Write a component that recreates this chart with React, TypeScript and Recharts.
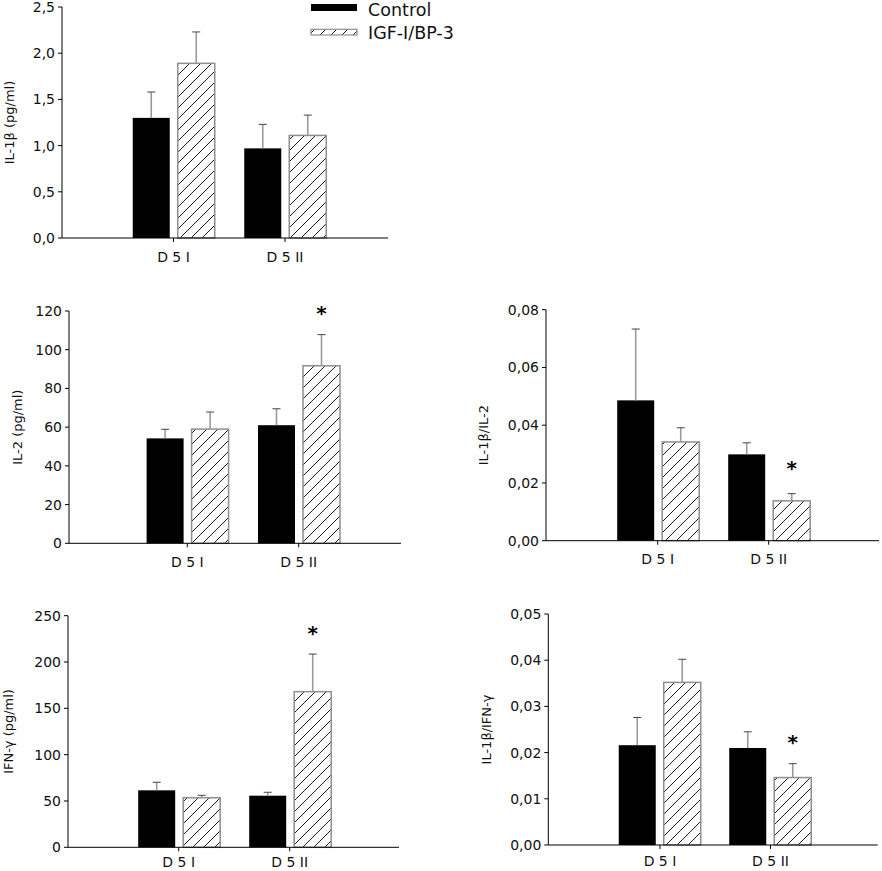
import React from 'react';
import { BarChart, Bar, XAxis, YAxis } from 'recharts';

const FONT = '"DejaVu Sans", "Liberation Sans", sans-serif';

// ---------- data ----------
const categories = ['D 5 I', 'D 5 II'];
const seriesNames = ['Control', 'IGF-I/BP-3'];

const il1bControl = [1.3, 0.97];
const il1bControlErr = [0.28, 0.26];
const il1bIgf = [1.89, 1.11];
const il1bIgfErr = [0.34, 0.22];
const il1bSig = [false, false];
const il1bTicks = [0, 0.5, 1, 1.5, 2, 2.5];

const il2Control = [54.2, 61.0];
const il2ControlErr = [4.7, 8.5];
const il2Igf = [59.0, 91.7];
const il2IgfErr = [8.8, 16.1];
const il2Sig = [false, true];
const il2Ticks = [0, 20, 40, 60, 80, 100, 120];

const ratioIl2Control = [0.0486, 0.0299];
const ratioIl2ControlErr = [0.0247, 0.004];
const ratioIl2Igf = [0.0342, 0.0138];
const ratioIl2IgfErr = [0.0049, 0.0025];
const ratioIl2Sig = [false, true];
const ratioIl2Ticks = [0, 0.02, 0.04, 0.06, 0.08];

const ifnControl = [61.5, 55.7];
const ifnControlErr = [8.7, 3.7];
const ifnIgf = [53.5, 168.0];
const ifnIgfErr = [2.6, 40.6];
const ifnSig = [false, true];
const ifnTicks = [0, 50, 100, 150, 200, 250];

const ratioIfnControl = [0.0216, 0.021];
const ratioIfnControlErr = [0.006, 0.0035];
const ratioIfnIgf = [0.0352, 0.0146];
const ratioIfnIgfErr = [0.005, 0.003];
const ratioIfnSig = [false, true];
const ratioIfnTicks = [0, 0.01, 0.02, 0.03, 0.04, 0.05];

function buildRows(c: number[], ce: number[], g: number[], ge: number[], s: boolean[]) {
  return categories.map((cat, i) => ({
    cat,
    control: c[i],
    controlErr: ce[i],
    igf: g[i],
    igfErr: ge[i],
    sig: s[i],
  }));
}

// ---------- layout / style (page coordinates) ----------
type Cfg = {
  id: string;
  rows: any[];
  ticks: number[];
  dec: number;
  label: string;
  left: number;
  top: number;
  axisX: number;
  rightX: number;
  topY: number;
  baseY: number;
  padL: number;
  padR: number;
  labelX: number;
  labelDy: number;
  starGap: number;
  xTickMargin: number;
};

const panels: Cfg[] = [
  {
    id: 'p1', rows: buildRows(il1bControl, il1bControlErr, il1bIgf, il1bIgfErr, il1bSig),
    ticks: il1bTicks, dec: 1, label: 'IL-1β (pg/ml)',
    left: 0, top: 0, axisX: 62, rightX: 388, topY: 7, baseY: 238, padL: 55.75, padR: 47.25,
    labelX: 9.5, labelDy: 0, starGap: 26, xTickMargin: 10,
  },
  {
    id: 'p2', rows: buildRows(il2Control, il2ControlErr, il2Igf, il2IgfErr, il2Sig),
    ticks: il2Ticks, dec: 0, label: 'IL-2 (pg/ml)',
    left: 0, top: 295, axisX: 69, rightX: 401, topY: 311, baseY: 543.3, padL: 62.6, padR: 46.6,
    labelX: 17.5, labelDy: 0, starGap: 26, xTickMargin: 10,
  },
  {
    id: 'p3', rows: buildRows(ratioIl2Control, ratioIl2ControlErr, ratioIl2Igf, ratioIl2IgfErr, ratioIl2Sig),
    ticks: ratioIl2Ticks, dec: 2, label: 'IL-1β/IL-2',
    left: 460, top: 295, axisX: 546, rightX: 879, topY: 309.7, baseY: 540.7, padL: 56.2, padR: 54.8,
    labelX: 483, labelDy: 10, starGap: 30, xTickMargin: 9,
  },
  {
    id: 'p4', rows: buildRows(ifnControl, ifnControlErr, ifnIgf, ifnIgfErr, ifnSig),
    ticks: ifnTicks, dec: 0, label: 'IFN-γ (pg/ml)',
    left: 0, top: 600, axisX: 68, rightX: 399, topY: 615.7, baseY: 847.3, padL: 55.2, padR: 53.8,
    labelX: 9, labelDy: 0, starGap: 26, xTickMargin: 6,
  },
  {
    id: 'p5', rows: buildRows(ratioIfnControl, ratioIfnControlErr, ratioIfnIgf, ratioIfnIgfErr, ratioIfnSig),
    ticks: ratioIfnTicks, dec: 2, label: 'IL-1β/IFN-γ',
    left: 460, top: 600, axisX: 548.3, rightX: 877.7, topY: 614, baseY: 845, padL: 56.45, padR: 51.95,
    labelX: 486.7, labelDy: 0, starGap: 26, xTickMargin: 7,
  },
];

const X_AXIS_H = 26;
const HATCH = 11;

function HatchPattern({ id }: { id: string }) {
  const s = HATCH;
  return (
    <pattern id={id} patternUnits="userSpaceOnUse" width={s} height={s}>
      <path
        d={`M0,${s} L${s},0 M${-s / 4},${s / 4} L${s / 4},${-s / 4} M${(3 * s) / 4},${(5 * s) / 4} L${(5 * s) / 4},${(3 * s) / 4}`}
        stroke="#000"
        strokeWidth={0.9}
      />
    </pattern>
  );
}

function makeShape(kind: 'control' | 'igf', cfg: Cfg) {
  return (props: any) => {
    const { x, y, width, height, payload, index } = props;
    const v = payload[kind];
    const err = payload[kind + 'Err'];
    const pxPerUnit = v ? height / v : 0;
    const errTop = y - err * pxPerUnit;
    const cx = x + width / 2;
    const pid = `hatch-${cfg.id}-${index}`;
    return (
      <g>
        {kind === 'control' ? (
          <rect x={x} y={y} width={width} height={height} fill="#000" />
        ) : (
          <g>
            <defs>
              <HatchPattern id={pid} />
            </defs>
            <rect x={x} y={y} width={width} height={height} fill="#fff" />
            <rect x={x} y={y} width={width} height={height} fill={`url(#${pid})`} />
            <rect x={x} y={y} width={width} height={height} fill="none" stroke="#8f8f8f" strokeWidth={1.5} />
          </g>
        )}
        <line x1={cx} y1={y} x2={cx} y2={errTop} stroke="#9a9a9a" strokeWidth={1.6} />
        <line x1={cx - 4} y1={errTop} x2={cx + 4} y2={errTop} stroke="#444" strokeWidth={1} />
        {kind === 'igf' && payload.sig ? (
          <text
            x={cx}
            y={errTop - cfg.starGap + 11.5}
            textAnchor="middle"
            fontFamily={FONT}
            fontWeight="bold"
            fontSize={20}
            fill="#000"
          >
            *
          </text>
        ) : null}
      </g>
    );
  };
}

function YLabel({ cfg }: { cfg: Cfg; [k: string]: any }) {
  const cx = cfg.labelX - cfg.left;
  const cy = (cfg.topY + cfg.baseY) / 2 - cfg.top + cfg.labelDy;
  return (
    <text
      x={cx}
      y={cy}
      transform={`rotate(-90 ${cx} ${cy})`}
      textAnchor="middle"
      dominantBaseline="central"
      fontFamily={FONT}
      fontSize={13}
      fill="#111"
    >
      {cfg.label}
    </text>
  );
}

function Panel({ cfg }: { cfg: Cfg }) {
  const width = cfg.rightX - cfg.left + 4;
  const height = cfg.baseY - cfg.top + X_AXIS_H;
  const max = cfg.ticks[cfg.ticks.length - 1];
  return (
    <div style={{ position: 'absolute', left: cfg.left, top: cfg.top, width, height }}>
      <BarChart
        width={width}
        height={height}
        data={cfg.rows}
        margin={{ top: cfg.topY - cfg.top, right: 4, bottom: 0, left: 0 }}
        barGap={8}
        barSize={37}
        style={{ overflow: 'visible' }}
      >
        <XAxis
          dataKey="cat"
          type="category"
          height={X_AXIS_H}
          padding={{ left: cfg.padL, right: cfg.padR }}
          axisLine={{ stroke: '#000', strokeWidth: 1 }}
          tickLine={{ stroke: '#000', strokeWidth: 1 }}
          tickSize={4}
          tickMargin={cfg.xTickMargin}
          interval={0}
          tick={{ fontFamily: FONT, fontSize: 14, fill: '#111' }}
        />
        <YAxis
          type="number"
          domain={[0, max]}
          ticks={cfg.ticks}
          interval={0}
          width={cfg.axisX - cfg.left}
          axisLine={{ stroke: '#000', strokeWidth: 1 }}
          tickLine={{ stroke: '#000', strokeWidth: 1 }}
          tickSize={4}
          tickMargin={3}
          tick={{ fontFamily: FONT, fontSize: 14, fill: '#111' }}
          tickFormatter={(v: number) => v.toFixed(cfg.dec).replace('.', ',')}
          label={<YLabel cfg={cfg} />}
        />
        <Bar dataKey="control" name={seriesNames[0]} isAnimationActive={false} shape={makeShape('control', cfg)} />
        <Bar dataKey="igf" name={seriesNames[1]} isAnimationActive={false} shape={makeShape('igf', cfg)} />
      </BarChart>
    </div>
  );
}

function LegendBox() {
  return (
    <svg
      style={{ position: 'absolute', left: 300, top: 0, overflow: 'visible' }}
      width={220}
      height={45}
    >
      <defs>
        <HatchPattern id="hatch-legend" />
      </defs>
      <rect x={11} y={4} width={46} height={7} fill="#000" />
      <text x={68} y={15.5} fontFamily={FONT} fontSize={17.5} fill="#111">
        {seriesNames[0]}
      </text>
      <rect x={11} y={29.3} width={46} height={5.7} fill="#fff" />
      <rect x={11} y={29.3} width={46} height={5.7} fill="url(#hatch-legend)" />
      <rect x={11} y={29.3} width={46} height={5.7} fill="none" stroke="#8f8f8f" strokeWidth={1.2} />
      <text x={68} y={38.5} fontFamily={FONT} fontSize={17.5} fill="#111">
        {seriesNames[1]}
      </text>
    </svg>
  );
}

export default function App() {
  return (
    <div style={{ position: 'absolute', left: 0, top: 0, width: 882, height: 871, background: '#fff' }}>
      {panels.map((p) => (
        <Panel key={p.id} cfg={p} />
      ))}
      <LegendBox />
    </div>
  );
}
